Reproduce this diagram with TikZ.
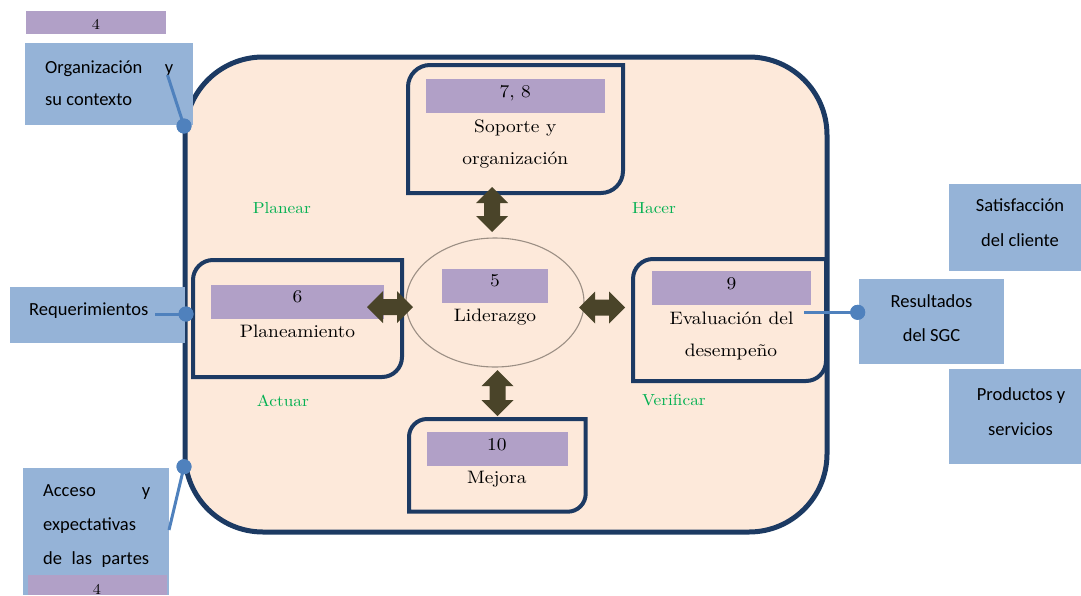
\documentclass[tikz,border=0pt]{standalone}
\usepackage{fontspec}
\usetikzlibrary{shapes.geometric}
\newfontfamily\carlito{Carlito}
\newfontfamily\lmw{lmroman10-regular.otf}[FakeStretch=1.08]
\definecolor{peach}{HTML}{FDE9DA}
\definecolor{navy}{HTML}{1C3A63}
\definecolor{lilac}{HTML}{B1A0C7}
\definecolor{bluefill}{HTML}{95B3D7}
\definecolor{connblue}{HTML}{4F81BD}
\definecolor{olive}{HTML}{4A4429}
\definecolor{ellcol}{HTML}{9C8F84}
\definecolor{greentxt}{HTML}{00B050}
\newcommand\harr[3]{\fill[olive] (#1,#3) -- ({#1+16},{#3-16}) -- ({#1+16},{#3-8}) -- ({#2-16},{#3-8}) -- ({#2-16},{#3-16}) -- (#2,#3) -- ({#2-16},{#3+16}) -- ({#2-16},{#3+8}) -- ({#1+16},{#3+8}) -- ({#1+16},{#3+16}) -- cycle;}
\newcommand\varr[3]{\fill[olive] (#1,#2) -- ({#1+16},{#2+16}) -- ({#1+8},{#2+16}) -- ({#1+8},{#3-16}) -- ({#1+16},{#3-16}) -- (#1,#3) -- ({#1-16},{#3-16}) -- ({#1-8},{#3-16}) -- ({#1-8},{#2+16}) -- ({#1-16},{#2+16}) -- cycle;}
\newcommand\dbox[5]{\draw[inbox] (#1,{#2+#5}) .. controls (#1,{#2+0.448*#5}) and ({#1+0.448*#5},#2) .. ({#1+#5},#2) -- (#3,#2) -- (#3,{#4-#5}) .. controls (#3,{#4-0.448*#5}) and ({#3-0.448*#5},#4) .. ({#3-#5},#4) -- (#1,#4) -- cycle;}
\begin{document}
\begin{tikzpicture}[x=1pt,y=-1pt,
  bigbox/.style={draw=navy, line width=5pt, fill=peach, rounded corners=78pt, inner sep=0pt, outer sep=0pt, anchor=north west},
  inbox/.style={draw=navy, line width=4pt, fill=peach},
  bar/.style={fill=lilac, inner sep=0pt, outer sep=0pt, anchor=north west},
  bluebox/.style={fill=bluefill, inner sep=0pt, outer sep=0pt, anchor=north west},
  serif/.style={inner sep=0pt, anchor=base, font=\lmw\fontsize{18}{21}\selectfont},
  numsmall/.style={inner sep=0pt, anchor=base, font=\lmw\fontsize{15}{18}\selectfont},
  green/.style={inner sep=0pt, anchor=base west, text=greentxt, font=\lmw\fontsize{16}{19}\selectfont},
  sans/.style={inner sep=0pt, anchor=base west, font=\carlito\fontsize{18.5}{22}\selectfont},
  sansc/.style={inner sep=0pt, anchor=base, font=\carlito\fontsize{18.5}{22}\selectfont},
  dot/.style={circle, fill=connblue, inner sep=0pt, minimum size=15pt},
  conn/.style={draw=connblue, line width=3pt}
]
\useasboundingbox (0,0) rectangle (1081,595);

% main cycle box
\node[bigbox, minimum width=642pt, minimum height=475pt] (cyclebox) at (185,57) {};

% inner boxes with diagonal rounded corners
\dbox{408}{65}{623}{193}{22}
\dbox{193}{260}{402}{377}{20}
\dbox{633}{259}{826}{381}{20}
\dbox{409}{419}{585.7}{511.7}{18}

% leadership ellipse
\node[draw=ellcol, line width=1.1pt, ellipse, minimum width=178pt, minimum height=129pt, inner sep=0pt] (lid) at (495,302.5) {};

% purple bars
\node[bar, minimum width=179pt, minimum height=33.7pt] (b78) at (426,79) {};
\node[bar, minimum width=173pt, minimum height=34pt] (b6) at (211,285) {};
\node[bar, minimum width=106pt, minimum height=33.7pt] (b5) at (442,269) {};
\node[bar, minimum width=159pt, minimum height=33.7pt] (b9) at (652,271) {};
\node[bar, minimum width=140.7pt, minimum height=34pt] (b10) at (427,431.7) {};
\node[bar, minimum width=140pt, minimum height=22.7pt] (b4t) at (26,11) {};

% inner texts
\node[serif] (t78) at (515.3,97.7) {7, 8};
\node[serif] (tsop1) at (515.3,132.7) {Soporte y};
\node[serif] (tsop2) at (515.3,164) {organización};
\node[serif] (t6) at (297.5,302.7) {6};
\node[serif] (tplan) at (297.5,337) {Planeamiento};
\node[serif] (t5) at (495,286.7) {5};
\node[serif] (tlid) at (495,321) {Liderazgo};
\node[serif] (t9) at (731.5,289) {9};
\node[serif] (tev1) at (731.5,324) {Evaluación del};
\node[serif] (tev2) at (731,356.7) {desempeño};
\node[serif] (t10) at (496.8,450.7) {10};
\node[serif] (tmej) at (496.8,483.3) {Mejora};
\node[numsmall] (t4t) at (96,29.5) {4};

% PDCA labels
\node[green] (gplan) at (252.7,213) {Planear};
\node[green] (ghac) at (632,213) {Hacer};
\node[green] (gact) at (256.7,406.7) {Actuar};
\node[green] (gver) at (642,405) {Verificar};

% block double arrows
\varr{492}{187}{232}
\harr{367}{413}{307}
\harr{579}{625}{307.5}
\varr{497.5}{370}{416}

% outside boxes
\node[bluebox, minimum width=168pt, minimum height=81.7pt] (orgbox) at (25,43) {};
\node[sans] (org1) at (45,73) {\makebox[128pt][l]{Organización\hfill y}};
\node[sans] (org2) at (45,105) {su contexto};

\node[bluebox, minimum width=175pt, minimum height=56.3pt] (reqbox) at (10,286.7) {};
\node[sans] (req) at (29,315) {Requerimientos};

\node[bluebox, minimum width=146pt, minimum height=127pt] (accbox) at (23,468) {};
\node[sans] (acc1) at (43,496.7) {\makebox[107pt][l]{Acceso\hfill y}};
\node[sans] (acc2) at (43,530.7) {expectativas};
\node[sans] (acc3) at (43,564) {\makebox[106pt][l]{de\hfill las\hfill partes}};
\node[bar, minimum width=139pt, minimum height=20pt] (b4b) at (28,575) {};
\node[numsmall] (t4b) at (97,594) {4};

\node[bluebox, minimum width=132pt, minimum height=86.7pt] (satbox) at (949,184) {};
\node[sansc] (sat1) at (1020,211.7) {Satisfacción};
\node[sansc] (sat2) at (1020,246.7) {del cliente};

\node[bluebox, minimum width=145pt, minimum height=84.7pt] (resbox) at (859,279) {};
\node[sansc] (res1) at (931.5,307) {Resultados};
\node[sansc] (res2) at (931.5,341.7) {del SGC};

\node[bluebox, minimum width=132pt, minimum height=94.7pt] (probox) at (949,369.3) {};
\node[sansc] (pro1) at (1021,400.7) {Productos y};
\node[sansc] (pro2) at (1020.5,435) {servicios};

% connectors with dots
\node[dot] (d1) at (184,126) {};
\node[dot] (d2) at (186,314) {};
\node[dot] (d3) at (184,466.7) {};
\node[dot] (d4) at (857.7,312.3) {};
\coordinate (c1) at (167.5,75);
\coordinate (c2) at (155,314);
\coordinate (c3) at (169,530);
\coordinate (c4) at (804,312.3);
\draw[conn] (c1) -- (d1.center);
\draw[conn] (c2) -- (d2.center);
\draw[conn] (c3) -- (d3.center);
\draw[conn] (c4) -- (d4.center);
\node[dot] at (d1) {};
\node[dot] at (d2) {};
\node[dot] at (d3) {};
\node[dot] at (d4) {};
\end{tikzpicture}
\end{document}
